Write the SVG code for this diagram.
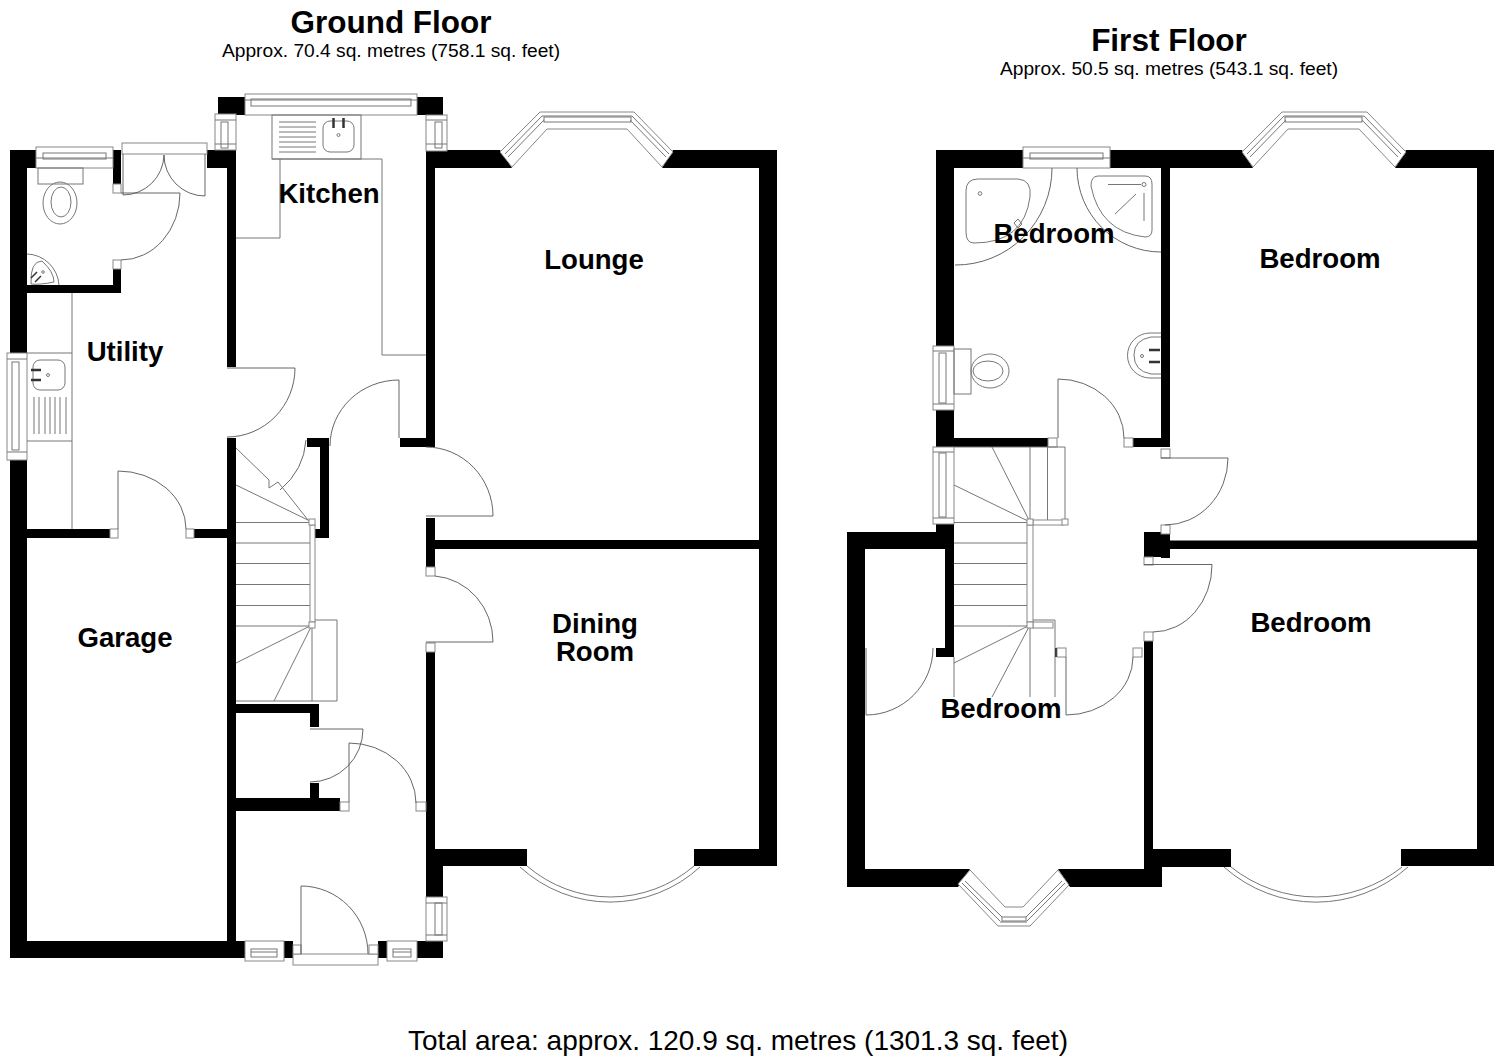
<svg xmlns="http://www.w3.org/2000/svg" width="1504" height="1059" viewBox="0 0 1504 1059">
<style>
.w{fill:#000}
.l{fill:none;stroke:#777;stroke-width:1}
.d{fill:none;stroke:#555;stroke-width:.9}
.f{fill:#fff;stroke:#888;stroke-width:1}
.k{fill:#222}
text{font-family:"Liberation Sans",Arial,sans-serif;fill:#000;text-anchor:middle}
.h{font-weight:700;font-size:31.5px}
.s{font-size:19.2px}
.r{font-weight:700;font-size:27.6px}
.t{font-size:28px}
</style>
<rect width="1504" height="1059" fill="#fff"/>

<g id="ground-walls" class="w">
<rect x="10" y="150" width="17" height="203"/><rect x="10" y="460" width="17" height="498"/>
<rect x="10" y="150" width="26" height="18"/>
<rect x="27" y="285" width="94" height="8"/><rect x="113" y="269" width="8" height="24"/><rect x="113" y="150" width="8" height="34"/>
<rect x="207" y="150" width="29" height="18"/><rect x="227" y="150" width="9" height="217"/><rect x="227" y="438" width="9" height="520"/>
<rect x="218" y="97" width="27" height="18"/><rect x="417" y="97" width="26" height="18"/>
<path d="M426 150H500L512 168H435V447H400V438H426Z"/>
<path d="M673 150H777V866H694V849H759V168H662Z"/>
<rect x="435" y="540" width="324" height="9"/>
<rect x="426" y="518" width="9" height="49"/>
<rect x="426" y="652" width="9" height="245"/>
<path d="M426 849H527V866H443V897H426Z"/>
<rect x="10" y="941" width="235" height="17"/><rect x="283" y="941" width="10" height="17"/><rect x="378" y="941" width="9" height="17"/><rect x="417" y="941" width="26" height="17"/>
<rect x="27" y="529" width="83" height="9"/><rect x="194" y="529" width="33" height="9"/>
<rect x="236" y="704" width="83" height="9"/><rect x="310" y="704" width="9" height="23"/>
<rect x="236" y="798" width="104" height="13"/><rect x="310" y="783" width="9" height="28"/>
<path d="M307 438H329V538H314V529H320V447H307Z"/>
</g>

<g id="ground-windows">
<rect class="f" x="36" y="147" width="77" height="21"/><rect class="l" x="43" y="153" width="63" height="6"/><path class="l" d="M36 158H113"/>
<rect class="f" x="122" y="143" width="85" height="11"/>
<rect class="f" x="245" y="94" width="172" height="21"/><rect class="l" x="251" y="99" width="160" height="7"/><path class="l" d="M245 100H417"/>
<rect class="f" x="215" y="114" width="21" height="36"/><rect class="l" x="221" y="122" width="7" height="26"/><path class="l" d="M215 120H236M215 144H236"/>
<rect class="f" x="426" y="115" width="21" height="36"/><rect class="l" x="435" y="122" width="7" height="26"/><path class="l" d="M426 120H447M426 144H447"/>
<rect class="f" x="7" y="353" width="20" height="107"/><rect class="l" x="12" y="362" width="7" height="88"/><path class="l" d="M7 359H27M7 452H27"/>
<rect class="f" x="426" y="897" width="21" height="44"/><rect class="l" x="435" y="903" width="7" height="32"/><path class="l" d="M426 903H447M426 935H447"/>
<rect class="f" x="245" y="941" width="39" height="20"/><rect class="l" x="251" y="949" width="26" height="8"/><path class="l" d="M251 952H277"/>
<rect class="f" x="387" y="941" width="30" height="20"/><rect class="l" x="393" y="949" width="18" height="8"/><path class="l" d="M393 952H411"/>
<rect class="f" x="293" y="954" width="85" height="11"/>
<rect class="f" x="293" y="945" width="8" height="9"/><rect class="f" x="369" y="945" width="9" height="9"/>
</g>

<g id="ground-bays">
<path class="f" d="M500 152L540 112H634L673 152L662 167L627 129H547L512 167Z"/>
<path class="l" d="M505 154L542 116M508 157L544 120M669 154L632 116M666 157L630 120M542 116H632"/>
<rect class="l" x="544" y="117" width="87" height="5"/>
<path class="l" d="M520 867A133 133 0 0 0 700 867M527 866A128 128 0 0 0 694 866"/>
</g>

<g id="ground-doors">
<rect class="f" x="113" y="184" width="8" height="9"/><rect class="f" x="113" y="260" width="8" height="9"/>
<path class="d" d="M121 193H180A59 67 0 0 1 121 260"/>
<path class="d" d="M123 154V195A41 41 0 0 0 164 155A41 41 0 0 0 205 196V154"/>
<path class="d" d="M227 368H295A68 69 0 0 1 227 437"/>
<path class="d" d="M399 438V380A69 66 0 0 0 330 446"/>
<path class="d" d="M306 440Q304 470 280 490"/>
<rect class="f" x="110" y="529" width="8" height="9"/><rect class="f" x="186" y="529" width="8" height="9"/>
<path class="d" d="M118 529V471A68 58 0 0 1 186 529"/>
<path class="d" d="M426 516H493A67 69 0 0 0 426 447"/>
<rect class="f" x="426" y="567" width="9" height="9"/><rect class="f" x="426" y="643" width="9" height="9"/>
<path class="d" d="M426 642H493A63 66 0 0 0 435 576"/>
<path class="d" d="M310 729H363A53 53 0 0 1 310 782"/>
<rect class="f" x="340" y="802" width="9" height="9"/><rect class="f" x="416" y="802" width="10" height="9"/>
<path class="d" d="M349 802V743A67 60 0 0 1 416 803"/>
<path class="d" d="M301 954V886A67 68 0 0 1 368 954"/>
</g>

<g id="ground-stairs" class="l">
<path d="M236 522.500H313M236 543H310M236 563.500H310M236 584.500H310M236 605.500H310M236 626H313"/>
<path d="M312 625L236 663M312 625L274 701M312 625V701M312 620H337V701H236"/>
<path d="M312 522L236 485M236 448L269 480V488L278 482L308 520"/>
<rect class="f" x="310" y="525" width="5" height="97"/>
<rect class="f" x="309" y="519" width="6" height="6"/><rect class="f" x="309" y="622" width="6" height="6"/>
</g>

<g id="ground-fixtures">
<path class="l" d="M236 238H280V159"/>
<rect class="l" x="272" y="115" width="89" height="44"/>
<path class="l" d="M272 159H382V355H426"/>
<path class="l" d="M279 122H316M279 127H316M279 132H316M279 137H316M279 142H316M279 147H316M279 152H316"/>
<rect class="l" x="323" y="121" width="31" height="31" rx="7"/>
<path stroke="#333" stroke-width="2.500" d="M333.500 118V128M343.500 118V128"/>
<circle class="l" cx="338.500" cy="135" r="1.500"/>
<path class="l" d="M72 293V529M27 353H72M27 441H72"/>
<rect class="l" x="33" y="360" width="32" height="30" rx="7"/>
<path stroke="#333" stroke-width="2.500" d="M31 370H41M31 380H41"/>
<circle class="l" cx="48" cy="375" r="1.500"/>
<path class="l" d="M34 397V434M39 397V434M45 397V434M50 397V434M55 397V434M60 397V434M66 397V434"/>
<rect class="l" x="38" y="168" width="45" height="16"/>
<ellipse class="l" cx="60" cy="203" rx="17" ry="21"/><ellipse class="l" cx="61" cy="202" rx="10" ry="15"/>
<path class="l" d="M27 254A33 33 0 0 1 59 285M31 284Q30 261 42 261Q54 272 54 282Q40 285 31 284Z"/>
<path stroke="#333" stroke-width="1.500" d="M31 278L37 272M35 282L41 276"/>
<circle class="l" cx="43" cy="272" r="1.300"/>
</g>

<g id="first-walls" class="w">
<rect x="936" y="150" width="18" height="196"/><rect x="936" y="410" width="18" height="37"/>
<rect x="936" y="150" width="87" height="18"/>
<path d="M1110 150H1242L1253 168H1170V447H1133V438H1161V168H1110Z"/>
<path d="M1406 150H1494V866H1401V849H1477V168H1395Z"/>
<rect x="954" y="438" width="94" height="9"/>
<path d="M936 524H954V657H936V648H945V549H865V869H970L958 887H847V532H936Z"/>
<path d="M1058 869H1144V641H1153V849H1231V867H1162V887H1070Z"/>
<path d="M1144 532H1161V534H1170V558H1161V557H1144Z"/>
<rect x="1170" y="540.500" width="307" height="8.500"/>
<rect x="1055" y="648" width="2" height="9"/>
</g>

<g id="first-windows">
<rect class="f" x="1023" y="147" width="87" height="21"/><rect class="l" x="1030" y="153" width="73" height="6"/><path class="l" d="M1023 158H1110"/>
<rect class="f" x="933" y="346" width="21" height="64"/><rect class="l" x="939" y="353" width="7" height="50"/><path class="l" d="M933 351H954M933 404H954"/>
<rect class="f" x="933" y="447" width="21" height="77"/><rect class="l" x="939" y="453" width="7" height="64"/><path class="l" d="M933 452H954M933 518H954"/>
</g>

<g id="first-bays">
<path class="f" d="M1242 152L1282 112H1367L1406 152L1395 167L1359 129H1288L1253 167Z"/>
<path class="l" d="M1247 154L1284 116M1250 157L1286 120M1401 154L1364 116M1398 157L1362 120M1284 116H1364"/>
<rect class="l" x="1285" y="117" width="77" height="5"/>
<path class="f" d="M958 884L998 926H1030L1069 885L1058 870L1023 907H1005L970 870Z"/>
<path class="l" d="M962 883L1000 921M965 881L1002 917M1065 883L1027 921M1062 881L1026 917M1000 922H1027"/>
<rect class="l" x="1002" y="917" width="24" height="4"/>
<path class="l" d="M1224 867A138 138 0 0 0 1408 867M1231 867A137 137 0 0 0 1402 867"/>
</g>

<g id="first-doors">
<path class="d" d="M1052 168A96 97 0 0 1 955 265"/>
<path class="d" d="M1077 168A84 84 0 0 0 1161 252"/>
<rect class="f" x="1048" y="438" width="9" height="9"/><rect class="f" x="1124" y="438" width="9" height="9"/>
<path class="d" d="M1058 438V379A66 59 0 0 1 1124 438"/>
<rect class="f" x="1161" y="449" width="9" height="9"/><rect class="f" x="1161" y="525" width="9" height="9"/>
<path class="d" d="M1161 458H1228A63 67 0 0 1 1165 525"/>
<rect class="f" x="1144" y="557" width="9" height="8"/><rect class="f" x="1144" y="632" width="9" height="9"/>
<path class="d" d="M1144 564.500H1212A59 67 0 0 1 1153 632"/>
<rect class="f" x="1133" y="648" width="9" height="9"/><rect class="f" x="1057" y="648" width="9" height="9"/>
<path class="d" d="M1066 657V715A67 58 0 0 0 1133 657"/>
<path class="d" d="M866 648V715A67 67 0 0 0 933 648"/>
</g>

<g id="first-stairs" class="l">
<path d="M954 522.500H1030M954 543H1027M954 563.500H1027M954 584.500H1027M954 605.500H1027M954 626H1030"/>
<path d="M1030 522L954 485M1030 522L992 447M1030 447V522M1047.500 447V522M1065 447V522M954 447H1065"/>
<path d="M1030 625L954 663M1030 625L992 697M1030 625V697M954 657V697M1055 620V697"/>
<rect class="f" x="1027" y="525" width="6" height="97"/>
<rect class="f" x="1033" y="520" width="30" height="5"/>
<rect class="f" x="1033" y="622" width="20" height="6"/>
<path d="M1033 620H1055"/>
<rect class="f" x="1027" y="519" width="6" height="6"/><rect class="f" x="1027" y="622" width="6" height="6"/>
<rect class="f" x="1062" y="519" width="6" height="6"/>
</g>

<g id="first-fixtures">
<path class="l" d="M978 179H1018Q1032 180 1030 197Q1024 243 974 243Q966 243 966 232V191Q966 179 978 179Z"/>
<circle class="l" cx="980" cy="193.500" r="1.800"/>
<path class="l" d="M1014 223L1018 219L1022 224L1018 228Z"/>
<path class="l" d="M1098 176H1145Q1152 176 1152 184V230Q1152 237 1145 237Q1100 232 1091 186Q1091 176 1098 176Z"/>
<path class="l" d="M1108 184.500H1141M1144 193V221M1115 214L1136 194"/>
<circle class="l" cx="1144" cy="184.500" r="2"/>
<rect class="l" x="954" y="349" width="17" height="45"/>
<ellipse class="l" cx="990" cy="371" rx="19" ry="17"/><ellipse class="l" cx="988" cy="371" rx="15" ry="10"/>
<path class="l" d="M1161 333H1150A22 22 0 0 0 1150 378H1161"/>
<path class="l" d="M1161 337H1151Q1134 340 1134 355Q1134 371 1151 374H1161"/>
<path stroke="#333" stroke-width="2.500" d="M1149 350H1160M1149 362H1160"/>
<circle class="l" cx="1142" cy="356" r="1.500"/>
</g>

<g id="labels">
<text class="h" x="391" y="33">Ground Floor</text>
<text class="s" x="391" y="57">Approx. 70.4 sq. metres (758.1 sq. feet)</text>
<text class="h" x="1169" y="51">First Floor</text>
<text class="s" x="1169" y="75">Approx. 50.5 sq. metres (543.1 sq. feet)</text>
<text class="r" x="329" y="203">Kitchen</text>
<text class="r" x="594" y="269">Lounge</text>
<text class="r" x="125" y="361">Utility</text>
<text class="r" x="125" y="647">Garage</text>
<text class="r" x="595" y="633">Dining</text>
<text class="r" x="595" y="661">Room</text>
<text class="r" x="1054" y="243">Bedroom</text>
<text class="r" x="1320" y="268">Bedroom</text>
<text class="r" x="1311" y="632">Bedroom</text>
<text class="r" x="1001" y="718">Bedroom</text>
<text class="t" x="738" y="1050">Total area: approx. 120.9 sq. metres (1301.3 sq. feet)</text>
</g>
</svg>
